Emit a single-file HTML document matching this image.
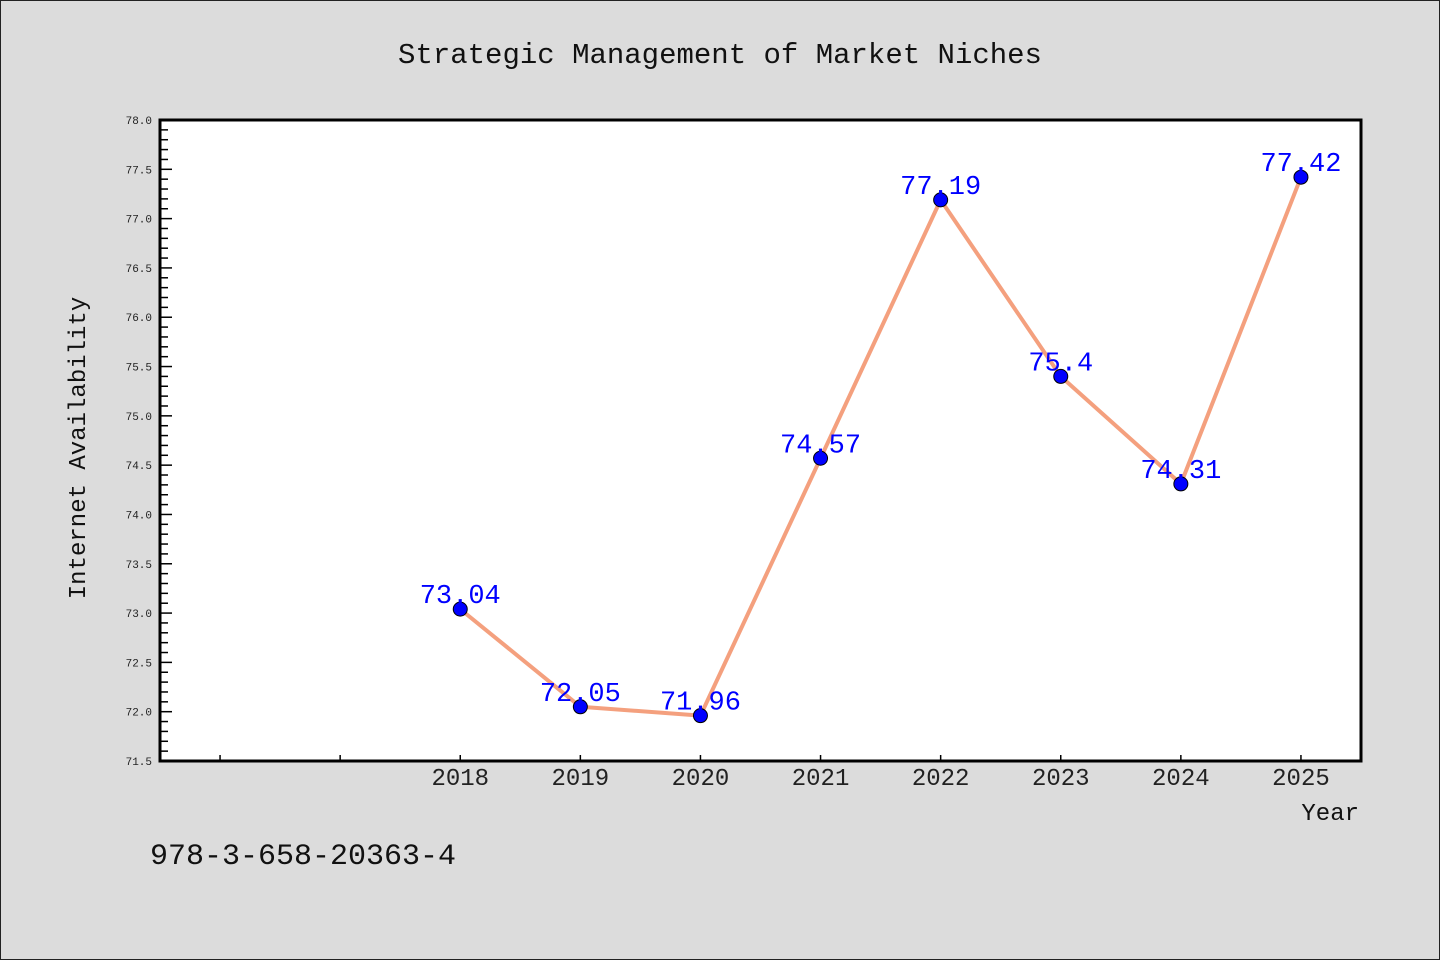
<!DOCTYPE html>
<html><head><meta charset="utf-8"><style>
html,body{margin:0;padding:0;background:#dcdcdc;}
svg{display:block;}
text{font-family:"Liberation Mono","DejaVu Sans Mono",monospace;}
</style></head><body>
<svg width="1440" height="960" xmlns="http://www.w3.org/2000/svg">
<rect x="0.5" y="0.5" width="1439" height="959" fill="#dcdcdc" stroke="#222"/>
<rect x="160" y="120" width="1201" height="641" fill="#fff"/>
<text x="720" y="63" text-anchor="middle" font-size="29" fill="#111">Strategic Management of Market Niches</text>
<text x="85" y="448" text-anchor="middle" font-size="24" fill="#111" transform="rotate(-90 85 448)">Internet Availability</text>
<text x="1359" y="820" text-anchor="end" font-size="24" fill="#111">Year</text>
<text x="150" y="864" font-size="30" fill="#111">978-3-658-20363-4</text>
<g id="axes"></g>
<g id="marks"></g>
<rect x="160" y="120" width="1201" height="641" fill="none" stroke="#000" stroke-width="3"/>
</svg>
<script>
const years = [2018, 2019, 2020, 2021, 2022, 2023, 2024, 2025];
const values = [73.04, 72.05, 71.96, 74.57, 77.19, 75.4, 74.31, 77.42];
const valueLabels = ["73.04", "72.05", "71.96", "74.57", "77.19", "75.4", "74.31", "77.42"];
const xTicks = [2016, 2017, 2018, 2019, 2020, 2021, 2022, 2023, 2024, 2025];
const yTickLabels = ["71.5","72.0","72.5","73.0","73.5","74.0","74.5","75.0","75.5","76.0","76.5","77.0","77.5","78.0"];

const NS = "http://www.w3.org/2000/svg";
const X0 = 160, X1 = 1361, Y0 = 761, Y1 = 120;
const xMin = 2015.5, xMax = 2025.5, yMin = 71.5, yMax = 78.0;
function xs(v){ return X0 + (v - xMin) / (xMax - xMin) * (X1 - X0); }
function ys(v){ return Y0 - (v - yMin) / (yMax - yMin) * (Y0 - Y1); }
function mk(tag, attrs, parent){ const e = document.createElementNS(NS, tag); for (const k in attrs) e.setAttribute(k, attrs[k]); parent.appendChild(e); return e; }
const axes = document.getElementById('axes');
const marks = document.getElementById('marks');

for (let i = 0; i <= 65; i++) {
  const v = yMin + i * 0.1;
  const major = i % 5 === 0;
  const t = mk('line', {x1: X0, x2: X0 + (major ? 12 : 8), y1: ys(v), y2: ys(v), stroke: '#000', 'stroke-width': 1.5}, axes);
  
  
}
yTickLabels.forEach(l => {
  const t = mk('text', {x: 152, y: ys(parseFloat(l)) + 4, 'text-anchor': 'end', 'font-size': 11, fill: '#222', 'font-family': '"DejaVu Sans",sans-serif'}, axes);
  t.textContent = l;
  
  
});
xTicks.forEach(yr => {
  const t = mk('line', {x1: xs(yr), x2: xs(yr), y1: Y0, y2: Y0 - 6, stroke: '#000', 'stroke-width': 1.5}, axes);
  
  
});
years.forEach(yr => {
  const t = mk('text', {x: xs(yr), y: 785, 'text-anchor': 'middle', 'font-size': 24, fill: '#222', 'font-family': '"Liberation Sans",sans-serif'}, axes);
  t.textContent = yr;
  
  
});
const pts = years.map((yr, i) => xs(yr) + ',' + ys(values[i])).join(' ');
const line = mk('polyline', {points: pts, fill: 'none', stroke: '#f4a07e', 'stroke-width': 4, 'stroke-linejoin': 'round'}, marks);


years.forEach((yr, i) => {
  const c = mk('circle', {cx: xs(yr), cy: ys(values[i]), r: 7, fill: '#0000ff', stroke: '#000', 'stroke-width': 1}, marks);
  
  
});
years.forEach((yr, i) => {
  const t = mk('text', {x: xs(yr), y: ys(values[i]) - 6, 'text-anchor': 'middle', 'font-size': 27, fill: '#0000ff', 'font-family': '"Liberation Sans",sans-serif'}, marks);
  t.textContent = valueLabels[i];
  
  
});
</script>
</body></html>
